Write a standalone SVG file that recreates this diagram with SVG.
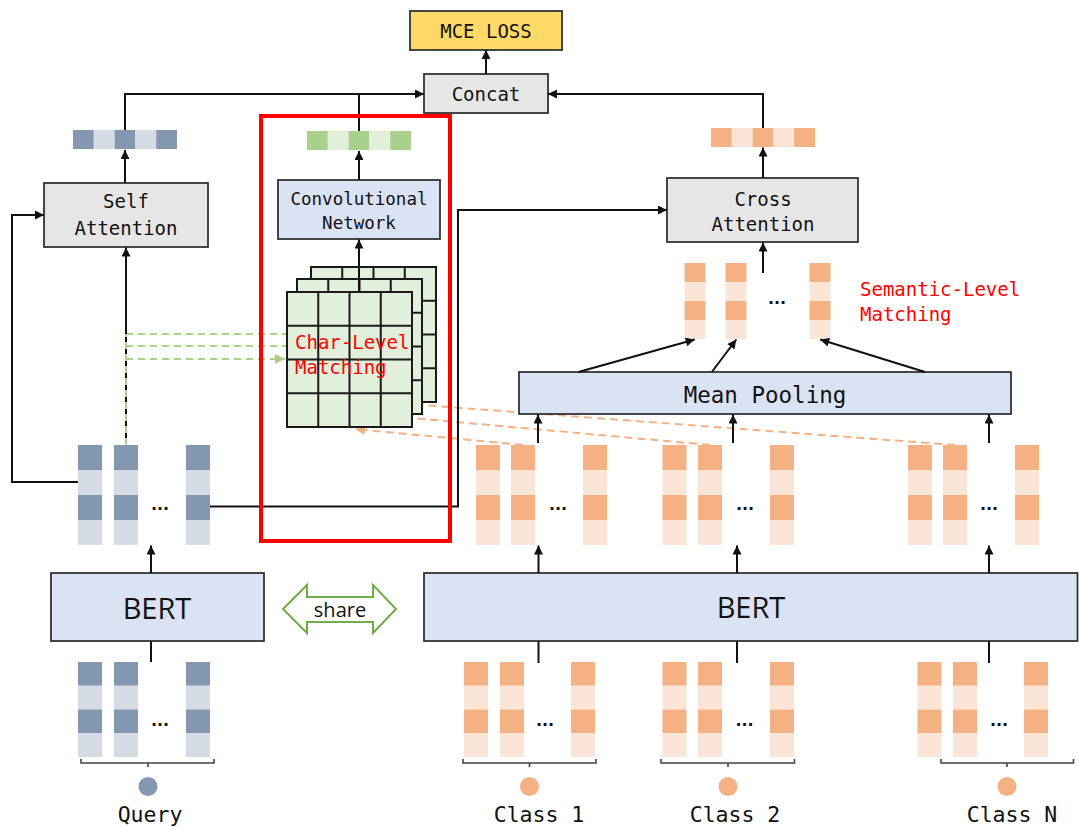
<svg xmlns="http://www.w3.org/2000/svg" width="1079" height="827" viewBox="0 0 1079 827">
<style>
.box{stroke:#333;stroke-width:1.8}
.grey{fill:#E7E6E6}
.blue{fill:#DAE3F3}
.mono{font-family:"DejaVu Sans Mono","Liberation Mono",monospace;fill:#111;text-anchor:middle}
.sans{font-family:"Open Sans","Noto Sans","Liberation Sans",sans-serif;fill:#111;text-anchor:middle}
.red{font-family:"DejaVu Sans Mono","Liberation Mono",monospace;fill:#FF0000;font-size:19px}
.conn{stroke:#111;stroke-width:2;fill:none}
.gdash{stroke:#A9D18E;stroke-width:2;stroke-dasharray:7 5;fill:none}
.odash{stroke:#F4B183;stroke-width:2;stroke-dasharray:8 5;fill:none}
.qd{fill:#8497B0}.ql{fill:#D6DCE5}
.od{fill:#F4B183}.ol{fill:#FBE5D6}
.gk{fill:#A9D18E}.gl{fill:#E2F0D9}
.dots{font-family:"DejaVu Sans","Liberation Sans",sans-serif;font-weight:bold;font-size:16px;fill:#111;text-anchor:middle}
.brace{stroke:#444;stroke-width:1.6;fill:none}
.gridline{stroke:#1a1a1a;stroke-width:2;fill:none}
</style>
<defs>
  <marker id="ah" viewBox="0 0 10 10" refX="10" refY="5" markerWidth="10" markerHeight="9" markerUnits="userSpaceOnUse" orient="auto">
    <path d="M0,0L10,5L0,10z" fill="#111"/>
  </marker>
  <marker id="ahg" viewBox="0 0 10 10" refX="10" refY="5" markerWidth="11" markerHeight="10" markerUnits="userSpaceOnUse" orient="auto">
    <path d="M0,0L10,5L0,10z" fill="#A9D18E"/>
  </marker>
  <marker id="aho" viewBox="0 0 10 10" refX="10" refY="5" markerWidth="11" markerHeight="10" markerUnits="userSpaceOnUse" orient="auto">
    <path d="M0,0L10,5L0,10z" fill="#F4B183"/>
  </marker>
  <!-- token columns: 4 cells, alternating dark/light -->
  <g id="colQ">
    <rect class="qd" width="24" height="25"/><rect class="ql" y="25" width="24" height="25"/>
    <rect class="qd" y="50" width="24" height="25"/><rect class="ql" y="75" width="24" height="25"/>
  </g>
  <g id="colC">
    <rect class="od" width="24" height="25"/><rect class="ol" y="25" width="24" height="25"/>
    <rect class="od" y="50" width="24" height="25"/><rect class="ol" y="75" width="24" height="25"/>
  </g>
  <g id="colS">
    <rect class="od" width="21" height="19"/><rect class="ol" y="19" width="21" height="19"/>
    <rect class="od" y="38" width="21" height="19"/><rect class="ol" y="57" width="21" height="19"/>
  </g>
  <!-- 4x4 matching matrix -->
  <g id="grid">
    <rect width="125" height="135" fill="#E2EFDA" stroke="#1a1a1a" stroke-width="2"/>
    <path class="gridline" d="M31.25,0V135M62.5,0V135M93.75,0V135M0,33.75H125M0,67.5H125M0,101.25H125"/>
  </g>
</defs>

<rect width="1079" height="827" fill="#fff"/>

<!-- dashed matching links (below the matrices) -->
<g id="matching-links">
  <path class="gdash" d="M126,334H287"/>
  <path class="gdash" d="M126,346H287"/>
  <path class="gdash" d="M126,359H285" marker-end="url(#ahg)"/>
  <path class="odash" d="M955,445L422,405"/>
  <path class="odash" d="M710,445L412,418"/>
  <path class="odash" d="M523,445L355,429" marker-end="url(#aho)"/>
</g>

<g id="mce-loss">
  <rect class="box" x="410" y="11" width="152" height="39" fill="#FFD966"/>
  <text class="mono" x="486" y="37.5" font-size="19">MCE LOSS</text>
</g>
<g id="concat">
  <rect class="box grey" x="424" y="74" width="124" height="39"/>
  <text class="mono" x="486" y="101" font-size="19">Concat</text>
</g>
<g id="self-attention">
  <rect class="box grey" x="44" y="183" width="164" height="64"/>
  <text class="mono" x="126" y="208" font-size="19">Self</text>
  <text class="mono" x="126" y="235" font-size="19">Attention</text>
</g>
<g id="conv-network">
  <rect class="box blue" x="278" y="180" width="162" height="59"/>
  <text class="mono" x="359" y="205" font-size="17.5">Convolutional</text>
  <text class="mono" x="359" y="229" font-size="17.5">Network</text>
</g>
<g id="cross-attention">
  <rect class="box grey" x="667" y="178" width="191" height="64"/>
  <text class="mono" x="763" y="205.5" font-size="19">Cross</text>
  <text class="mono" x="763" y="230.5" font-size="19">Attention</text>
</g>
<g id="mean-pooling">
  <rect class="box blue" x="519" y="372" width="492" height="42"/>
  <text class="mono" x="765" y="403" font-size="22.5">Mean Pooling</text>
</g>
<g id="bert-query">
  <rect class="box blue" x="51" y="573" width="213" height="68"/>
  <text class="sans" x="157" y="619" font-size="29">BERT</text>
</g>
<g id="bert-class">
  <rect class="box blue" x="424" y="573" width="653.5" height="68"/>
  <text class="sans" x="751" y="618" font-size="29">BERT</text>
</g>

<g id="share">
  <polygon points="283,609 307,585 307,597 373,597 373,585 396,609 373,633 373,622 307,622 307,633" fill="#fff" stroke="#70AD47" stroke-width="2"/>
  <text class="sans" x="340" y="616.5" font-size="20">share</text>
</g>

<!-- pooled feature vectors -->
<g id="query-vector">
  <rect class="qd" x="73" y="130" width="20.8" height="19"/><rect class="ql" x="93.8" y="130" width="20.8" height="19"/>
  <rect class="qd" x="114.6" y="130" width="20.8" height="19"/><rect class="ql" x="135.4" y="130" width="20.8" height="19"/>
  <rect class="qd" x="156.2" y="130" width="20.8" height="19"/>
</g>
<g id="char-vector">
  <rect class="gk" x="307" y="131" width="20.8" height="19"/><rect class="gl" x="327.8" y="131" width="20.8" height="19"/>
  <rect class="gk" x="348.6" y="131" width="20.8" height="19"/><rect class="gl" x="369.4" y="131" width="20.8" height="19"/>
  <rect class="gk" x="390.2" y="131" width="20.8" height="19"/>
</g>
<g id="class-vector">
  <rect class="od" x="711" y="128" width="20.8" height="19"/><rect class="ol" x="731.8" y="128" width="20.8" height="19"/>
  <rect class="od" x="752.6" y="128" width="20.8" height="19"/><rect class="ol" x="773.4" y="128" width="20.8" height="19"/>
  <rect class="od" x="794.2" y="128" width="20.8" height="19"/>
</g>

<!-- char-level matching matrices -->
<g id="char-matrix">
  <use href="#grid" x="311" y="267"/>
  <use href="#grid" x="297" y="279"/>
  <use href="#grid" x="287" y="292"/>
  <text class="red" x="295" y="349">Char-Level</text>
  <text class="red" x="295" y="374">Matching</text>
</g>

<g id="semantic-matching">
  <use href="#colS" x="684.5" y="263"/>
  <use href="#colS" x="725.5" y="263"/>
  <use href="#colS" x="809.5" y="263"/>
  <text class="dots" x="777" y="304">...</text>
  <text class="red" x="860" y="295.5">Semantic-Level</text>
  <text class="red" x="860" y="320.5">Matching</text>
</g>

<!-- contextual token embeddings -->
<g id="query-tokens-out">
  <use href="#colQ" x="78" y="445"/><use href="#colQ" x="114" y="445"/><use href="#colQ" x="186" y="445"/>
  <text class="dots" x="160" y="510">...</text>
</g>
<g id="class1-tokens-out">
  <use href="#colC" x="476" y="445"/><use href="#colC" x="511" y="445"/><use href="#colC" x="583" y="445"/>
  <text class="dots" x="558" y="510">...</text>
</g>
<g id="class2-tokens-out">
  <use href="#colC" x="662.5" y="445"/><use href="#colC" x="698" y="445"/><use href="#colC" x="770" y="445"/>
  <text class="dots" x="745" y="510">...</text>
</g>
<g id="classN-tokens-out">
  <use href="#colC" x="908" y="445"/><use href="#colC" x="943" y="445"/><use href="#colC" x="1015" y="445"/>
  <text class="dots" x="989" y="510">...</text>
</g>

<!-- input tokens -->
<g id="query-input">
  <use href="#colQ" transform="translate(78,662) scale(1,0.95)"/>
  <use href="#colQ" transform="translate(114,662) scale(1,0.95)"/>
  <use href="#colQ" transform="translate(186,662) scale(1,0.95)"/>
  <text class="dots" x="160" y="726">...</text>
  <path class="brace" d="M81,759V763H214V759M148,763V767"/>
  <circle cx="148" cy="786.5" r="9.5" fill="#8497B0"/>
  <text class="mono" x="150" y="821.7" font-size="21.5">Query</text>
</g>
<g id="class1-input">
  <use href="#colC" transform="translate(464,662) scale(1,0.95)"/>
  <use href="#colC" transform="translate(500,662) scale(1,0.95)"/>
  <use href="#colC" transform="translate(571,662) scale(1,0.95)"/>
  <text class="dots" x="545" y="726">...</text>
  <path class="brace" d="M463,759V763H596V759M529.5,763V767"/>
  <circle cx="529.5" cy="786.5" r="9.5" fill="#F4B183"/>
  <text class="mono" x="539" y="821.7" font-size="21.5">Class 1</text>
</g>
<g id="class2-input">
  <use href="#colC" transform="translate(662.5,662) scale(1,0.95)"/>
  <use href="#colC" transform="translate(698,662) scale(1,0.95)"/>
  <use href="#colC" transform="translate(770,662) scale(1,0.95)"/>
  <text class="dots" x="744.5" y="726">...</text>
  <path class="brace" d="M661,759V763H794.5V759M728,763V767"/>
  <circle cx="728" cy="786.5" r="9.5" fill="#F4B183"/>
  <text class="mono" x="735" y="821.7" font-size="21.5">Class 2</text>
</g>
<g id="classN-input">
  <use href="#colC" transform="translate(917.5,662) scale(1,0.95)"/>
  <use href="#colC" transform="translate(953,662) scale(1,0.95)"/>
  <use href="#colC" transform="translate(1024,662) scale(1,0.95)"/>
  <text class="dots" x="999" y="726">...</text>
  <path class="brace" d="M941,759V763H1073.5V759M1007,763V767"/>
  <circle cx="1007" cy="786.5" r="9.5" fill="#F4B183"/>
  <text class="mono" x="1012" y="821.7" font-size="21.5">Class N</text>
</g>

<!-- solid connectors -->
<g id="connectors">
  <path class="conn" d="M486,74V50" marker-end="url(#ah)"/>
  <path class="conn" d="M125,130V94H424" marker-end="url(#ah)"/>
  <path class="conn" d="M359,131V94"/>
  <path class="conn" d="M763,128V94H548" marker-end="url(#ah)"/>
  <path class="conn" d="M125,183V150" marker-end="url(#ah)"/>
  <path class="conn" d="M359,180V151" marker-end="url(#ah)"/>
  <path class="conn" d="M763,178V147.5" marker-end="url(#ah)"/>
  <path class="conn" d="M359,292V239.5" marker-end="url(#ah)"/>
  <path class="conn" d="M763,273V242.5" marker-end="url(#ah)"/>
  <path class="conn" d="M126,445V247.5" marker-end="url(#ah)"/>
  <path class="conn" d="M78,482H12V215H44" marker-end="url(#ah)"/>
  <path class="conn" d="M210,506.5H458V210H667" marker-end="url(#ah)"/>
  <path class="conn" d="M578.5,372L694.7,339.5" marker-end="url(#ah)"/>
  <path class="conn" d="M711.8,372L736.3,339.5" marker-end="url(#ah)"/>
  <path class="conn" d="M925,372L820.2,339.5" marker-end="url(#ah)"/>
  <path class="conn" d="M538,443V414.5" marker-end="url(#ah)"/>
  <path class="conn" d="M733,443V414.5" marker-end="url(#ah)"/>
  <path class="conn" d="M989,443V414.5" marker-end="url(#ah)"/>
  <path class="conn" d="M151,573V545.5" marker-end="url(#ah)"/>
  <path class="conn" d="M538.5,573V545.5" marker-end="url(#ah)"/>
  <path class="conn" d="M737,573V545.5" marker-end="url(#ah)"/>
  <path class="conn" d="M989,573V545.5" marker-end="url(#ah)"/>
  <path class="conn" d="M151,662V641"/>
  <path class="conn" d="M538.5,663V641"/>
  <path class="conn" d="M737,663V641"/>
  <path class="conn" d="M989,663V641"/>
  <path class="gdash" d="M126,445V334"/>
</g>

<!-- highlighted char-level branch -->
<rect id="char-branch-frame" x="261" y="116" width="189" height="425" fill="none" stroke="#FF0000" stroke-width="4"/>
</svg>
